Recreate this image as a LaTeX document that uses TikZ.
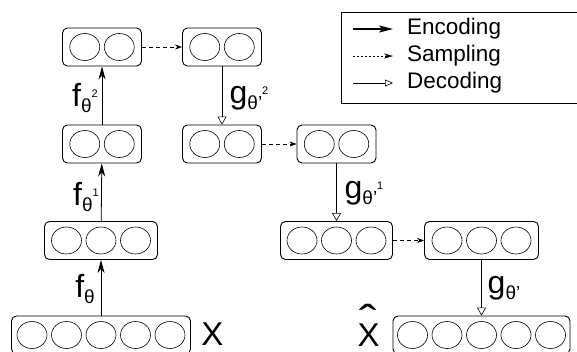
\documentclass[tikz,border=0pt]{standalone}
\usepackage{fontspec}
\setmainfont{Liberation Sans}
\usetikzlibrary{arrows.meta}
\tikzset{layer/.style = {draw, rounded corners = 5pt, minimum height = 38pt, line width = 0.9pt}}
\tikzset{encode/.style = {-{Stealth[length = 13pt, width = 7pt, inset = 4pt]}, line width = 0.8pt}}
\tikzset{sample/.style = {dash pattern = on 4pt off 3pt, -{Stealth[length = 7pt, width = 5pt]}, line width = 0.6pt}}
\tikzset{decode/.style = {-{Triangle[open, length = 8pt, width = 9pt]}, line width = 0.6pt}}
\tikzset{legendtext/.style = {anchor = west, inner xsep = 14pt, font = \fontsize{22.5}{22.5}\selectfont}}
\tikzset{varname/.style = {inner sep = 0pt, font = \fontsize{33}{33}\selectfont}}

\newcommand{\layer}[5]{%
  \node [layer, minimum width = #5pt] (#1) at (#2, #3) {};
  \foreach \i in {1, ..., #4}
    \draw [line width = 0.6pt] ({#2 + 34.5*(\i - (#4 + 1)/2)}, #3) ellipse (15pt and 13.5pt);
}
\newcommand{\maplabel}[3]{{\fontsize{32}{32}\selectfont #1}\raisebox{-6pt}{\fontsize{19}{19}\selectfont θ#2}\raisebox{9pt}{\fontsize{11}{11}\selectfont #3}}
\newcommand{\widehatX}{\ooalign{X\cr\hidewidth\raisebox{11pt}{\scalebox{1.6}[1.3]{ˆ}}\hidewidth\cr}}

\begin{document}
\begin{tikzpicture}[x = 1pt, y = -1pt]
    \useasboundingbox (0, 0) rectangle (577, 351);

    \layer{in}{101}{335}{5}{179}
    \layer{h1}{101}{240.5}{3}{113}
    \layer{h2}{102}{144}{2}{79}
    \layer{z}{102}{47}{2}{79}

    \layer{zs}{222}{47}{2}{79}
    \layer{d2}{222}{144}{2}{79}
    \layer{d2s}{336.5}{144}{2}{79}
    \layer{d1}{336.5}{240.5}{3}{112}
    \layer{d1s}{481.5}{240.5}{3}{114}
    \layer{out}{481.5}{335}{5}{177}

    \draw [encode] (in) -- (h1);
    \draw [encode] (h1) -- (h2);
    \draw [encode] (h2) -- (z);

    \draw [sample] (z) -- (zs);
    \draw [sample] (d2) -- (d2s);
    \draw [sample] (d1) -- (d1s);

    \draw [decode] (zs) -- (d2);
    \draw [decode] (d2s) -- (d1);
    \draw [decode] (d1s) -- (out);

    \node (f0) at (85, 289) {\maplabel{f}{}{}};
    \node (f1) at (86, 197) {\maplabel{f}{}{1}};
    \node (f2) at (85, 98) {\maplabel{f}{}{2}};
    \node (g2) at (249, 98) {\maplabel{g}{'}{2}};
    \node (g1) at (364, 193) {\maplabel{g}{'}{1}};
    \node (g0) at (504, 288) {\maplabel{g}{'}{}};

    \node [varname] (x) at (212.5, 334) {X};
    \node [varname, anchor = base] (xhat) at (368.5, 346) {\widehatX};

    \draw [line width = 0.9pt] (341, 12) rectangle (579, 103);
    \node [legendtext] (enc) at (393, 29) {Encoding};
    \node [legendtext] (smp) at (393, 56) {Sampling};
    \node [legendtext] (dec) at (393, 83) {Decoding};
    \coordinate (enc0) at (353, 29);
    \coordinate (smp0) at (353, 56);
    \coordinate (dec0) at (353, 83);
    \draw [encode, line width = 1.2pt, -{Stealth[length = 14pt, width = 7pt, inset = 3pt]}] (enc0) -- (enc.west);
    \draw [sample, dash pattern = on 2pt off 2pt, -{Stealth[length = 9pt, width = 5pt]}] (smp0) -- (smp.west);
    \draw [decode, -{Triangle[open, length = 8pt, width = 7pt]}] (dec0) -- (dec.west);
  \end{tikzpicture}
\end{document}
